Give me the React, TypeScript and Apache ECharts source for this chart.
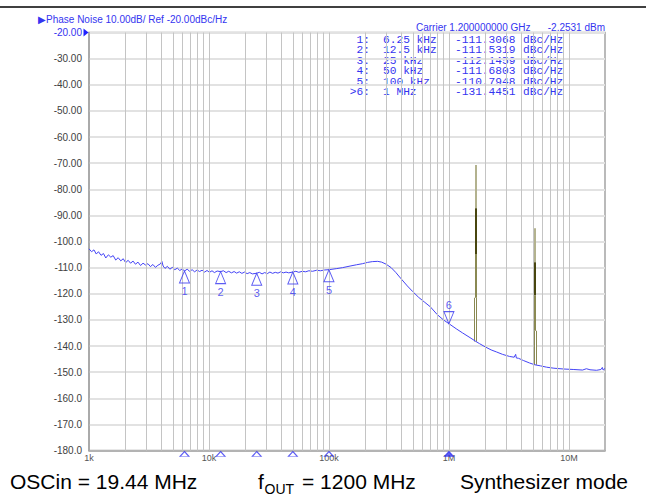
import React, { useEffect, useRef } from "react";
import * as echarts from "echarts";

// ---- Data: phase-noise trace as [offset frequency (Hz), dBc/Hz] ----
const traceLow: [number, number][] = [
  [1000, -102.8], [1050, -103.9], [1100, -103.2], [1150, -104.8], [1200, -103.9], [1260, -105.3], [1320, -104.6],
  [1380, -106.3], [1450, -105.1], [1520, -106.0], [1590, -105.4], [1670, -107.1], [1750, -106.2], [1840, -107.4],
  [1930, -106.6], [2020, -108.1], [2120, -107.2], [2220, -108.3], [2330, -107.5], [2440, -108.7], [2560, -107.9],
  [2690, -109.2], [2820, -108.3], [2960, -109.0], [3100, -108.5], [3250, -109.6], [3410, -108.8], [3580, -109.9],
  [3750, -109.1], [3930, -108.6], [4050, -107.6], [4150, -109.4], [4300, -110.3], [4500, -109.5], [4720, -110.6],
  [4950, -109.9], [5190, -110.8], [5450, -110.2], [5710, -111.1], [5990, -110.5], [6250, -111.3], [6580, -110.6],
  [6900, -111.4], [7240, -110.8], [7590, -111.6], [7960, -110.9], [8350, -111.5], [8760, -111.0], [9190, -111.7],
  [9640, -111.1],
];
const traceMid: [number, number][] = [
  [10100, -111.8], [10600, -111.2], [11100, -111.9], [11700, -111.3], [12500, -111.53], [13200, -111.2],
  [13900, -111.9], [14600, -111.4], [15400, -112.0], [16200, -111.5], [17000, -112.1], [17900, -111.6],
  [18800, -112.2], [19800, -111.7], [20800, -112.3], [21900, -111.9], [23000, -112.4], [25000, -112.15],
  [26300, -111.8], [27700, -112.4], [29100, -111.9], [30600, -112.3], [32200, -111.7], [33900, -112.2],
  [35700, -111.8], [37600, -112.1], [39600, -111.6], [41700, -112.0], [43900, -111.7], [46200, -112.0],
  [50000, -111.68], [53000, -111.4], [56000, -111.8], [60000, -111.4], [64000, -111.6], [68000, -111.2],
  [73000, -111.4], [79000, -111.0], [85000, -111.2], [92000, -110.9], [100000, -110.79], [115000, -110.4],
  [130000, -110.0], [150000, -109.4], [170000, -108.9], [190000, -108.5], [210000, -108.0], [230000, -107.7],
  [255000, -107.6], [275000, -107.9],
];
const traceHigh: [number, number][] = [
  [300000, -108.7], [330000, -110.0], [360000, -111.8], [400000, -114.3], [450000, -117.0], [500000, -119.2],
  [560000, -121.4], [630000, -123.3], [700000, -125.0], [800000, -128.0], [900000, -130.0], [1000000, -131.45],
  [1150000, -133.4], [1300000, -135.0], [1500000, -136.8], [1670000, -138.2], [1800000, -139.1], [2000000, -140.3],
  [2250000, -141.5], [2500000, -142.3], [2800000, -143.2], [3200000, -144.0], [3500000, -144.3], [3600000, -143.2],
  [3650000, -144.6], [3800000, -144.7], [4200000, -145.6], [4700000, -146.5], [5200000, -147.2], [5800000, -147.6],
  [6500000, -148.1], [7500000, -148.5], [9000000, -148.8], [11000000, -149.0], [13000000, -149.2],
  [14000000, -148.7], [15000000, -149.1], [17000000, -149.3], [18500000, -149.0], [19000000, -148.2],
  [19300000, -149.2], [20000000, -148.6],
];

const markerFreqs = [6250, 12500, 25000, 50000, 100000, 1000000];
const markerFreqLabels = ["6.25 kHz", "12.5 kHz", "25 kHz", "50 kHz", "100 kHz", "1 MHz"];
const markerValues = [-111.3068, -111.5319, -112.1459, -111.6803, -110.7948, -131.4451];
const markerTags = ["1:", "2:", "3:", "4:", "5:", ">6:"];

const spurFreqs = [1670000, 5210000];
const spurTop = [-70.7, -94.9];
const spurLightEnd = [-87.3, -107.9];
const spurDarkEnd = [-104.8, -120.7];
const spurMidEnd = [-121.5, -134.2];
const spurBase = [-138.3, -147.2];

const xTickLabels: Record<number, string> = { 1000: "1k", 10000: "10k", 100000: "100k", 1000000: "1M", 10000000: "10M" };

const yMin = -180;
const yMax = -20;
const xMin = 1000;
const xMax = 20000000;

const BLUE = "#3434f0";
const TRACE = "#4444f6";

function gridFreqs(): number[] {
  const out: number[] = [];
  for (let d = 1000; d < xMax; d *= 10) {
    for (let k = 1; k <= 9; k++) {
      const f = d * k;
      if (f > xMin && f < xMax) out.push(f);
    }
  }
  return out;
}

export default function App() {
  const ref = useRef<HTMLDivElement>(null);
  useEffect(() => {
    if (!ref.current) return;
    const chart = echarts.init(ref.current, undefined, { renderer: "svg" });

    const trace = [...traceLow, ...traceMid, ...traceHigh];

    const spurSegs: any[] = [];
    spurFreqs.forEach((f, i) => {
      spurSegs.push({ coords: [[f, spurMidEnd[i]], [f, spurBase[i]]], lineStyle: { color: "#8a8952", width: 3, opacity: 1 } });
      spurSegs.push({ coords: [[f, spurMidEnd[i]], [f, spurBase[i]]], lineStyle: { color: "#ffffff", width: 1, opacity: 1 } });
      spurSegs.push({ coords: [[f, spurTop[i]], [f, spurLightEnd[i]]], lineStyle: { color: "#b3b28e", width: 2, opacity: 1 } });
      spurSegs.push({ coords: [[f, spurLightEnd[i]], [f, spurDarkEnd[i]]], lineStyle: { color: "#48460f", width: 2, opacity: 1 } });
      spurSegs.push({ coords: [[f, spurDarkEnd[i]], [f, spurMidEnd[i]]], lineStyle: { color: "#8a8952", width: 2, opacity: 1 } });
    });

    const tableTexts: any[] = [];
    const rowY0 = 40;
    const rowH = 10.5;
    const mono = '"Liberation Mono", "DejaVu Sans Mono", monospace';
    const tStyle = (text: string, align: string) => ({ text, fill: BLUE, fontSize: 10, fontFamily: mono, align, verticalAlign: "middle" });
    markerTags.forEach((t, i) => {
      const y = rowY0 + i * rowH;
      tableTexts.push({ type: "text", x: 370, y, scaleX: 1.12, style: tStyle(t, "right") });
      tableTexts.push({ type: "text", x: 383, y, scaleX: 1.12, style: tStyle(markerFreqLabels[i], "left") });
      tableTexts.push({ type: "text", x: 455, y, scaleX: 1.12, style: tStyle(markerValues[i].toFixed(4), "left") });
      tableTexts.push({ type: "text", x: 523, y, scaleX: 1.12, style: tStyle("dBc/Hz", "left") });
    });

    const sans = '"Liberation Sans", Arial, sans-serif';

    chart.setOption({
      animation: false,
      backgroundColor: "#ffffff",
      grid: { left: 89, right: 41, top: 32.5, bottom: 45.5, show: true, borderColor: "#a4a4a4", borderWidth: 1.5, backgroundColor: "transparent" },
      xAxis: {
        type: "log",
        logBase: 10,
        min: xMin,
        max: xMax,
        axisLine: { show: true, lineStyle: { color: "#a4a4a4", width: 1.5 } },
        axisTick: { show: false },
        splitLine: { show: false },
        axisLabel: {
          show: true,
          margin: 3,
          fontSize: 9,
          color: "#555555",
          fontFamily: sans,
          alignMinLabel: "left",
          showMaxLabel: false,
          formatter: (v: number) => xTickLabels[Math.round(v)] || "",
        },
      },
      yAxis: {
        type: "value",
        min: yMin,
        max: yMax,
        interval: 10,
        axisLine: { show: true, lineStyle: { color: "#a4a4a4", width: 1.5 } },
        axisTick: { show: false },
        splitLine: { show: true, lineStyle: { color: "#e2e2e2", width: 2 } },
        axisLabel: {
          margin: 7,
          fontSize: 10,
          fontFamily: sans,
          color: "#404040",
          formatter: (v: number) => {
            const s = v > -100 ? v.toFixed(2) : v.toFixed(1);
            return v === yMax ? "{b|" + s + "}" : "{n|" + s + "}";
          },
          rich: {
            b: { color: BLUE, fontSize: 10, fontFamily: sans },
            n: { color: "#404040", fontSize: 10, fontFamily: sans },
          },
        },
      },
      series: [
        {
          type: "line",
          z: 1,
          data: [[xMin, yMin]],
          showSymbol: false,
          lineStyle: { opacity: 0 },
          silent: true,
          markLine: {
            silent: true,
            symbol: ["none", "none"],
            label: { show: false },
            lineStyle: { color: "#c4c4c4", width: 1, type: "solid" },
            data: gridFreqs().map((f) => ({ xAxis: f })),
          },
        },
        {
          type: "lines",
          coordinateSystem: "cartesian2d",
          z: 3,
          silent: true,
          lineStyle: { opacity: 1 },
          data: spurSegs,
        },
        {
          type: "line",
          z: 4,
          data: trace,
          showSymbol: false,
          lineStyle: { color: TRACE, width: 1 },
          silent: true,
          markPoint: {
            silent: true,
            symbol: "path://M0,0L6,4L0,8Z",
            symbolSize: [5, 8],
            symbolOffset: [-3, 0],
            itemStyle: { color: "#2020ff" },
            label: { show: false },
            data: [{ coord: [xMin, yMax] }],
          },
        },
        {
          type: "scatter",
          z: 5,
          silent: true,
          symbol: "triangle",
          symbolSize: [10, 12],
          symbolOffset: [0, 6],
          itemStyle: { color: "rgba(255,255,255,0)", borderColor: BLUE, borderWidth: 1 },
          label: {
            show: true,
            position: "bottom",
            distance: 2,
            color: BLUE,
            fontSize: 11,
            fontFamily: sans,
            formatter: (p: any) => String(p.dataIndex + 1),
          },
          data: markerFreqs.slice(0, 5).map((f, i) => [f, markerValues[i]]),
        },
        {
          type: "scatter",
          z: 5,
          silent: true,
          symbol: "path://M0,0L10,0L5,12Z",
          symbolSize: [10, 12],
          symbolOffset: [0, -6],
          itemStyle: { color: "rgba(255,255,255,0)", borderColor: BLUE, borderWidth: 1 },
          label: {
            show: true,
            position: "top",
            distance: 1,
            color: BLUE,
            fontSize: 11,
            fontFamily: sans,
            formatter: () => "6",
          },
          data: [[markerFreqs[5], markerValues[5]]],
        },
        {
          type: "scatter",
          z: 6,
          silent: true,
          clip: false,
          symbol: "triangle",
          symbolSize: [9, 5],
          symbolOffset: [0, 3.5],
          itemStyle: { color: "rgba(255,255,255,0)", borderColor: BLUE, borderWidth: 1 },
          data: markerFreqs.map((f, i) =>
            i === markerFreqs.length - 1
              ? { value: [f, yMin], itemStyle: { color: BLUE, borderColor: BLUE } }
              : { value: [f, yMin] }
          ),
        },
      ],
      graphic: [
        { type: "line", shape: { x1: 0, y1: 7, x2: 646, y2: 7 }, style: { stroke: "#000000", lineWidth: 1.5 } },
        { type: "text", x: 38, y: 19, style: { text: "\u25B6Phase Noise 10.00dB/ Ref -20.00dBc/Hz", fill: BLUE, fontSize: 10, fontFamily: sans, align: "left", verticalAlign: "middle" } },
        { type: "text", x: 416, y: 27, style: { text: "Carrier 1.200000000 GHz", fill: BLUE, fontSize: 10, fontFamily: sans, align: "left", verticalAlign: "middle" } },
        { type: "text", x: 605, y: 27, style: { text: "-2.2531 dBm", fill: BLUE, fontSize: 10, fontFamily: sans, align: "right", verticalAlign: "middle" } },
        ...tableTexts,
        { type: "text", x: 10, y: 481, style: { text: "OSCin = 19.44 MHz", fill: "#000000", fontSize: 21, fontFamily: sans, align: "left", verticalAlign: "middle" } },
        { type: "text", x: 258, y: 481, style: { text: "f", fill: "#000000", fontSize: 21, fontFamily: sans, align: "left", verticalAlign: "middle" } },
        { type: "text", x: 264.5, y: 488.5, style: { text: "OUT", fill: "#000000", fontSize: 14, fontFamily: sans, align: "left", verticalAlign: "middle" } },
        { type: "text", x: 302, y: 481, style: { text: "= 1200 MHz", fill: "#000000", fontSize: 21, fontFamily: sans, align: "left", verticalAlign: "middle" } },
        { type: "text", x: 628, y: 481, style: { text: "Synthesizer mode", fill: "#000000", fontSize: 21, fontFamily: sans, align: "right", verticalAlign: "middle" } },
      ],
    });
    return () => chart.dispose();
  }, []);
  return <div ref={ref} style={{ position: "fixed", left: 0, top: 0, width: 646, height: 496 }} />;
}
